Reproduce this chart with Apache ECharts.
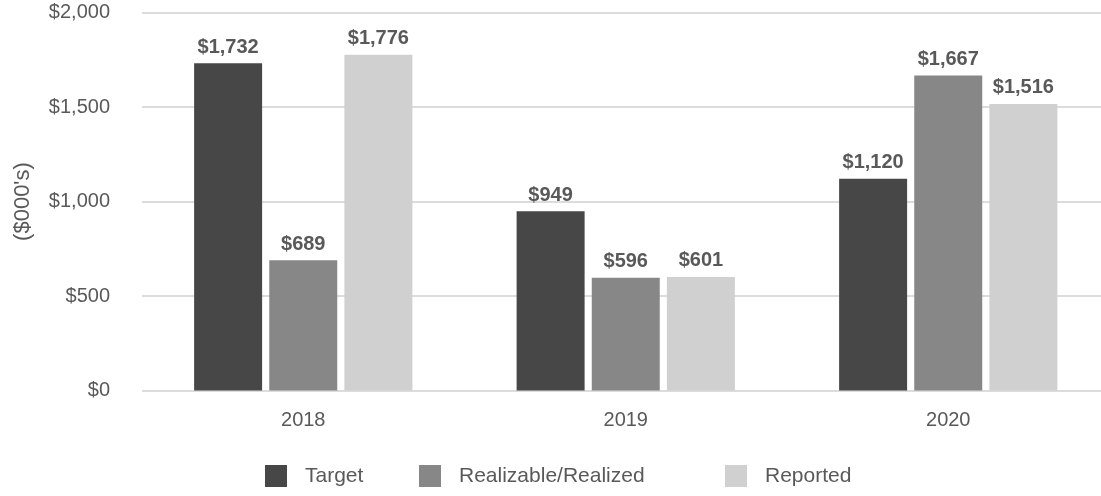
<!DOCTYPE html>
<html>
<head>
<meta charset="utf-8">
<script src="https://cdn.jsdelivr.net/npm/echarts@6/dist/echarts.min.js"></script>
<style>
  html, body { margin: 0; padding: 0; background: #fff; overflow: hidden; }
</style>
</head>
<body>
<!-- the plot runs past the right edge in the reference, so the canvas is a bit wider than the window -->
<div id="chart" style="width:1120px;height:496px;"></div>
<script>
const years = ['2018', '2019', '2020'];
const target = [1732, 949, 1120];
const realized = [689, 596, 1667];
const reported = [1776, 601, 1516];
const seriesNames = ['Target', 'Realizable/Realized', 'Reported'];
const colors = ['#474747', '#878787', '#d0d0d0'];

const textColor = '#595959';
const font = 'Liberation Sans, Arial, sans-serif';

function money(v) {
  return '$' + v.toLocaleString('en-US');
}

const chart = echarts.init(document.getElementById('chart'));

// one legend per item so each can sit where the reference has it
const legendLeft = [265, 419, 725];
const legends = seriesNames.map(function (n, i) {
  return {
    data: [n],
    left: legendLeft[i],
    top: 465,
    padding: 0,
    itemWidth: 22,
    itemHeight: 22,
    icon: 'rect',
    selectedMode: false,
    textStyle: { color: textColor, fontSize: 21, fontFamily: font, padding: [0, 0, 0, 13] }
  };
});

const label = {
  show: true,
  position: 'top',
  distance: 6,
  color: textColor,
  fontSize: 20,
  fontWeight: 'bold',
  fontFamily: font,
  formatter: function (p) { return money(p.value); }
};

const data = [target, realized, reported];

chart.setOption({
  animation: false,
  legend: legends,
  grid: { left: 142, top: 12.5, width: 967.5, height: 378 },
  xAxis: {
    type: 'category',
    data: years,
    axisLine: { show: false },
    axisTick: { show: false },
    axisLabel: { color: textColor, fontSize: 20, fontFamily: font, margin: 20 }
  },
  yAxis: {
    type: 'value',
    min: 0,
    max: 2000,
    interval: 500,
    name: "($000's)",
    nameLocation: 'middle',
    nameRotate: 90,
    nameGap: 108,
    nameTextStyle: { color: textColor, fontSize: 22, fontFamily: font },
    axisLine: { show: false },
    axisTick: { show: false },
    splitLine: { lineStyle: { color: '#dcdcdc', width: 2 } },
    axisLabel: {
      color: textColor, fontSize: 20, fontFamily: font, margin: 32,
      padding: [8, 0, 0, 0],
      formatter: function (v) { return money(v); }
    }
  },
  series: seriesNames.map(function (n, i) {
    return {
      name: n,
      type: 'bar',
      data: data[i],
      barWidth: 68,
      barGap: '10.5%',
      itemStyle: { color: colors[i] },
      label: label
    };
  })
});
</script>
</body>
</html>
